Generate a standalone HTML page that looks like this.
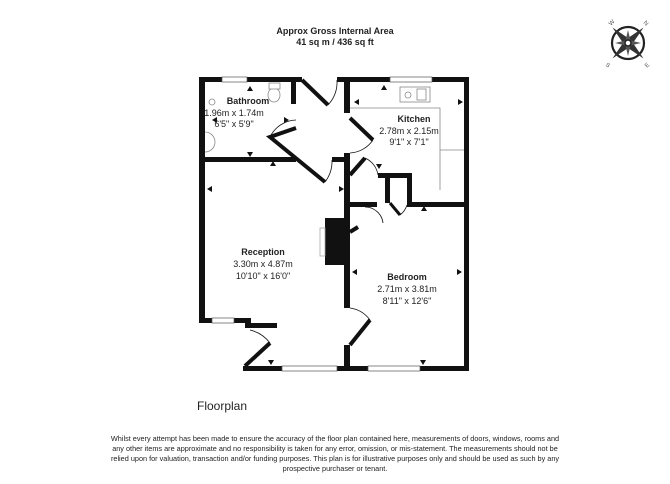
<!DOCTYPE html>
<html><head><meta charset="utf-8"><style>
body{margin:0;background:#fff;width:670px;height:484px;overflow:hidden;font-family:"Liberation Sans",Arial,sans-serif}
svg{position:absolute;left:0;top:0}
</style></head><body>
<svg width="670" height="484" viewBox="0 0 670 484" font-family="Liberation Sans, Arial, sans-serif">
<text x="335" y="34" font-size="9" font-weight="bold" text-anchor="middle" fill="#222">Approx Gross Internal Area</text>
<text x="335" y="45" font-size="9" font-weight="bold" text-anchor="middle" fill="#222">41 sq m / 436 sq ft</text>
<!-- compass -->
<g transform="translate(628,43)">
<circle r="16" fill="none" stroke="#222" stroke-width="2.2"/>
<polygon points="0,-22 3.5,-3.5 22,0 3.5,3.5 0,22 -3.5,3.5 -22,0 -3.5,-3.5" fill="#333" transform="rotate(45)"/>
<polygon points="0,-13 2.5,-2.5 13,0 2.5,2.5 0,13 -2.5,2.5 -13,0 -2.5,-2.5" fill="#555"/>
<circle r="3" fill="#fff" stroke="#222" stroke-width="1.5"/>
</g>
<text x="609" y="25" font-size="6" fill="#555" transform="rotate(-45 611 23)">W</text>
<text x="644" y="25" font-size="6" fill="#555" transform="rotate(45 646 23)">N</text>
<text x="606" y="67" font-size="6" fill="#555" transform="rotate(45 608 65)">S</text>
<text x="645" y="67" font-size="6" fill="#555" transform="rotate(-45 647 65)">E</text>
<g fill="#111">
<rect x="199" y="77" width="103" height="5"/>
<rect x="337" y="77" width="132" height="5"/>
<rect x="199" y="77" width="6" height="246"/>
<rect x="291" y="77" width="5" height="27"/>
<rect x="199" y="157" width="97" height="5"/>
<rect x="332" y="157" width="18" height="5"/>
<rect x="344" y="77" width="6" height="36"/>
<rect x="344" y="153" width="6" height="155"/>
<rect x="344" y="345" width="6" height="26"/>
<rect x="378" y="173" width="34" height="5"/>
<rect x="385" y="173" width="5" height="30"/>
<rect x="407" y="173" width="5" height="34"/>
<rect x="350" y="202" width="27" height="5"/>
<rect x="412" y="202" width="57" height="5"/>
<rect x="464" y="77" width="5" height="294"/>
<rect x="243" y="366" width="226" height="5"/>
<rect x="199" y="318" width="52" height="5"/>
<rect x="245" y="318" width="5" height="10"/>
<rect x="245" y="323" width="32" height="5"/>
<rect x="325" y="218" width="20" height="47"/>
</g>
<g fill="#fff" stroke="#555" stroke-width="0.7">
<rect x="222" y="77" width="25" height="5"/><rect x="390" y="77" width="42" height="5"/>
<rect x="212" y="318" width="22" height="5"/><rect x="282" y="366" width="55" height="5"/>
<rect x="368" y="366" width="52" height="5"/>
</g>
<rect x="320" y="228" width="5" height="28" fill="#fff" stroke="#aaa" stroke-width="0.8"/>
<g stroke="#111" fill="none">
<path d="M302,80 L328,105" stroke-width="4"/><path d="M328,105 A34,34 0 0,0 337,80" stroke-width="0.8"/>
<path d="M350,118 L373,140" stroke-width="4"/><path d="M373,140 A30,30 0 0,1 350,153" stroke-width="0.8"/>
<path d="M296,128 L270,137 L325,182" stroke-width="4"/><path d="M270,137 A30,30 0 0,1 296,120" stroke-width="0.8"/>
<path d="M325,182 A34,34 0 0,0 332,160" stroke-width="0.8"/>
<path d="M350,175 L365,158" stroke-width="4"/><path d="M365,158 A22,22 0 0,1 378,175" stroke-width="0.8"/>
<path d="M390,203 L400,215" stroke-width="3"/><path d="M400,215 A20,20 0 0,0 407,205" stroke-width="0.8"/>
<path d="M365,207 A18,18 0 0,1 383,223" stroke-width="0.8"/><path d="M350,232 L358,227" stroke-width="4"/>
<path d="M350,345 L370,320" stroke-width="4"/><path d="M370,320 A30,30 0 0,0 350,308" stroke-width="0.8"/>
<path d="M245,366 L270,343" stroke-width="4"/><path d="M270,343 A35,35 0 0,0 250,330" stroke-width="0.8"/>
</g>
<g stroke="#888" fill="#fff" stroke-width="0.8">
<rect x="400" y="87" width="30" height="15"/><circle cx="408" cy="95" r="3"/><rect x="417" y="89" width="9" height="11"/>
<path d="M350,108 H440 V190"/><path d="M440,150 H464"/>
<ellipse cx="274" cy="95" rx="6" ry="7"/><rect x="269" y="83" width="11" height="6"/>
<path d="M205,132 A10,10 0 0,1 205,152"/>
<circle cx="212" cy="102" r="3"/>
</g>
<g fill="#111">
<polygon points="247,91 250,86 253,91"/>
<polygon points="217,117 212,120 217,123"/><polygon points="284,117 289,120 284,123"/>
<polygon points="247,152 250,157 253,152"/><polygon points="270,166 273,161 276,166"/>
<polygon points="381,90 384,85 387,90"/>
<polygon points="359,99 354,102 359,105"/><polygon points="458,99 463,102 458,105"/>
<polygon points="376,164 379,169 382,164"/>
<polygon points="421,211 424,206 427,211"/>
<polygon points="212,186 207,189 212,192"/><polygon points="339,186 344,189 339,192"/>
<polygon points="357,269 352,272 357,275"/><polygon points="457,269 462,272 457,275"/>
<polygon points="268,360 271,365 274,360"/>
<polygon points="420,360 423,365 426,360"/>
</g>
<g font-size="9" fill="#222" text-anchor="middle">
<text x="248" y="104" font-weight="bold">Bathroom</text><text x="234" y="116">1.96m x 1.74m</text><text x="234" y="127">6'5" x 5'9"</text>
<text x="414" y="122" font-weight="bold">Kitchen</text><text x="409" y="134">2.78m x 2.15m</text><text x="409" y="145">9'1" x 7'1"</text>
<text x="263" y="255" font-weight="bold">Reception</text><text x="263" y="267">3.30m x 4.87m</text><text x="263" y="279">10'10" x 16'0"</text>
<text x="407" y="280" font-weight="bold">Bedroom</text><text x="407" y="292">2.71m x 3.81m</text><text x="407" y="304">8'11" x 12'6"</text>
</g>
<text x="197" y="410" font-size="12" fill="#222">Floorplan</text>
<g font-size="7.3" fill="#222" text-anchor="middle">
<text x="335" y="441">Whilst every attempt has been made to ensure the accuracy of the floor plan contained here, measurements of doors, windows, rooms and</text>
<text x="335" y="451">any other items are approximate and no responsibility is taken for any error, omission, or mis-statement. The measurements should not be</text>
<text x="335" y="461">relied upon for valuation, transaction and/or funding purposes. This plan is for illustrative purposes only and should be used as such by any</text>
<text x="335" y="471">prospective purchaser or tenant.</text>
</g>
</svg>
</body></html>
